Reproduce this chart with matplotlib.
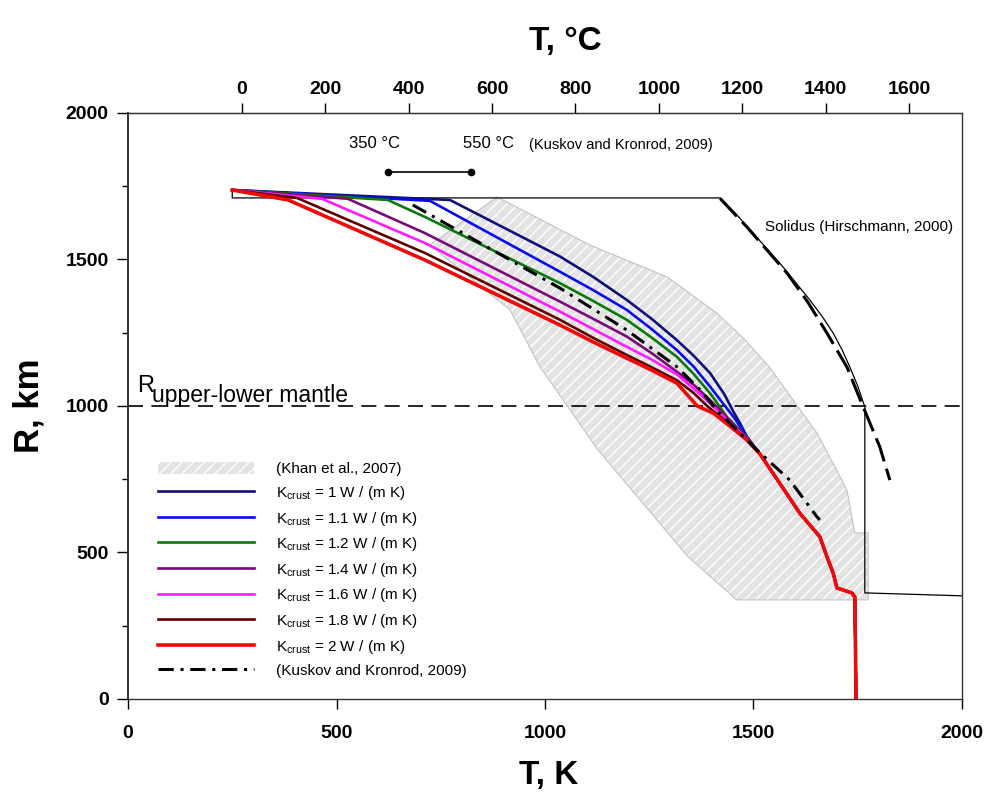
import matplotlib
matplotlib.use('Agg')
import matplotlib.pyplot as plt
from matplotlib.patches import Patch
from matplotlib.ticker import MultipleLocator
from matplotlib import font_manager

# fonts: Arial look-alike, narrow variant for the T axes if it exists
names = {f.name for f in font_manager.fontManager.ttflist}
narrow = 'Liberation Sans Narrow' if 'Liberation Sans Narrow' in names else 'Liberation Sans'
plt.rcParams['font.family'] = ['Liberation Sans', 'DejaVu Sans']
plt.rcParams['mathtext.fontset'] = 'custom'
plt.rcParams['mathtext.rm'] = 'Liberation Sans'
plt.rcParams['mathtext.it'] = 'Liberation Sans:italic'
plt.rcParams['hatch.linewidth'] = 1.0

# ---- data (T in K, R in km) ----
deep_T = [1516, 1563, 1611, 1659, 1676, 1691, 1700, 1736, 1743, 1746]
deep_R = [835, 736, 634, 554, 486, 430, 379, 362, 348, 0]

k10_T = [250, 772, 1036, 1116, 1196, 1256, 1316, 1356, 1396, 1430, 1452, 1470, 1484]
k10_R = [1737, 1703, 1510, 1440, 1362, 1297, 1225, 1172, 1112, 1040, 980, 935, 895]
k11_T = [250, 724, 1036, 1116, 1196, 1256, 1316, 1356, 1396, 1426, 1452, 1470, 1484]
k11_R = [1737, 1700, 1458, 1395, 1328, 1262, 1191, 1135, 1066, 1010, 963, 925, 895]
k12_T = [250, 623, 712, 1036, 1116, 1196, 1256, 1316, 1356, 1396, 1418, 1436, 1462, 1484]
k12_R = [1737, 1703, 1645, 1419, 1358, 1294, 1233, 1168, 1110, 1043, 1000, 963, 925, 892]
k14_T = [250, 527, 712, 1036, 1116, 1196, 1256, 1316, 1356, 1396, 1440, 1484]
k14_R = [1737, 1707, 1590, 1356, 1297, 1237, 1180, 1117, 1073, 1020, 955, 890]
k16_T = [250, 465, 712, 1036, 1116, 1196, 1256, 1316, 1356, 1396, 1440, 1484]
k16_R = [1737, 1707, 1556, 1322, 1262, 1202, 1158, 1108, 1060, 1009, 948, 888]
k18_T = [250, 405, 712, 1036, 1116, 1196, 1256, 1316, 1356, 1388, 1440, 1484]
k18_R = [1737, 1710, 1522, 1294, 1232, 1174, 1132, 1088, 1045, 1001, 940, 886]
k20_T = [250, 384, 712, 1036, 1116, 1196, 1256, 1316, 1365, 1404, 1440, 1484]
k20_R = [1737, 1703, 1498, 1276, 1218, 1163, 1122, 1078, 1000, 975, 935, 884]

kuskov_T = [683, 1036, 1196, 1316, 1372, 1412, 1508, 1587, 1652, 1659]
kuskov_R = [1686, 1402, 1259, 1134, 1055, 986, 850, 747, 622, 611]

khan_T = [885, 1108, 1293, 1412, 1480, 1540, 1595, 1652, 1707, 1724, 1743, 1775,
          1775, 1460, 1343, 1127, 988, 916, 724]
khan_R = [1713, 1549, 1440, 1317, 1225, 1130, 1020, 908, 761, 713, 567, 567,
          338, 338, 485, 850, 1133, 1328, 1549]

solidus_box_T = [250, 250, 1420, 1460, 1492, 1571, 1635, 1665, 1691, 1712, 1731, 1750, 1767,
                 1767, 2000]
solidus_box_R = [1740, 1710, 1710, 1652, 1601, 1474, 1362, 1305, 1249, 1193, 1133, 1068, 997,
                 362, 352]
hirsch_T = [1420, 1484, 1580, 1630, 1676, 1724, 1763, 1803, 1827]
hirsch_R = [1708, 1611, 1454, 1355, 1249, 1133, 997, 860, 747]

crust_range_C = [350, 550]
crust_range_R = 1800

curves = [
    (k10_T, k10_R, '#10107a', '1'),
    (k11_T, k11_R, '#0a0aee', '1.1'),
    (k12_T, k12_R, '#0a7a0a', '1.2'),
    (k14_T, k14_R, '#7a0a7a', '1.4'),
    (k16_T, k16_R, '#ff1aff', '1.6'),
    (k18_T, k18_R, '#5c0000', '1.8'),
    (k20_T, k20_R, '#ee0a0a', '2'),
]

fig = plt.figure(figsize=(9.9, 7.97), dpi=100)
ax = fig.add_axes([0.1293, 0.123, 0.8424, 0.7353])

ax.fill(khan_T, khan_R, facecolor='#e3e3e3', edgecolor='white', hatch='///',
        linewidth=0, zorder=1)
ax.fill(khan_T, khan_R, fill=False, edgecolor='#c4c4c4', linewidth=0.8, zorder=1)
khan_handle = Patch(facecolor='#e3e3e3', edgecolor='white', hatch='///', linewidth=0,
                    label='(Khan et al., 2007)')

ax.axhline(1000, color='black', lw=1.2, dashes=(9, 5), zorder=2)

ax.plot(solidus_box_T, solidus_box_R, color='black', lw=0.9, zorder=2)
ax.plot(hirsch_T, hirsch_R, color='black', lw=2.2, dashes=(8, 2.5), zorder=2)

handles = [khan_handle]
for T, R, c, k in curves:
    lw = 2.6 if k == '2' else 1.9
    line, = ax.plot(T + deep_T, R + deep_R, color=c, lw=lw, zorder=3,
                    label=r'K$_{\rm crust}$ = %s W / (m K)' % k)
    handles.append(line)

kus, = ax.plot(kuskov_T, kuskov_R, color='black', lw=2.2, dashes=(5, 2.2, 1, 2.2),
               zorder=4, label='(Kuskov and Kronrod, 2009)')
handles.append(kus)

# 350-550 C bar
ax.plot([c + 273 for c in crust_range_C], [crust_range_R] * 2, color='black', lw=1.2,
        marker='o', markersize=4.5, zorder=4)
ax.text(590, 1895, '350 °C', fontsize=12, ha='center', va='center')
ax.text(803, 1895, '550 °C', fontsize=12, ha='left', va='center')
ax.text(962, 1892, '(Kuskov and Kronrod, 2009)', fontsize=10.5, ha='left', va='center')

ax.text(1528, 1611, 'Solidus (Hirschmann, 2000)', fontsize=11, ha='left', va='center')
ax.text(22, 1048, 'R', fontsize=17, ha='left', va='baseline')
ax.text(57, 1014, 'upper-lower mantle', fontsize=16.5, ha='left', va='baseline')

ax.legend(handles=handles, loc='upper left', bbox_to_anchor=(0.036, 0.405), frameon=False,
          fontsize=11, handlelength=6.3, handletextpad=1.4, labelspacing=0.5,
          borderaxespad=0, borderpad=0, handleheight=0.9)

ax.set_xlim(0, 2000)
ax.set_ylim(0, 2000)
ax.set_xticks([0, 500, 1000, 1500, 2000])
ax.set_yticks([0, 500, 1000, 1500, 2000])
ax.yaxis.set_minor_locator(MultipleLocator(250))
ax.tick_params(axis='x', direction='out', length=7, width=1, pad=12)
ax.tick_params(axis='y', which='major', direction='out', length=8, width=1, pad=6)
ax.tick_params(axis='y', which='minor', direction='out', length=4, width=1)
for lab in ax.get_xticklabels():
    lab.set_fontfamily(narrow)
    lab.set_fontweight('bold')
    lab.set_fontsize(14)
for lab in ax.get_yticklabels():
    lab.set_fontweight('bold')
    lab.set_fontsize(14)
for s in ax.spines.values():
    s.set_linewidth(1.0)
    s.set_color('#333333')
ax.spines['left'].set_linewidth(1.4)

ax.set_xlabel('T, K', fontsize=24, fontweight='bold', fontfamily=narrow)
ax.xaxis.set_label_coords(0.504, -0.104)
ax.set_ylabel('R, km', fontsize=25, fontweight='bold', labelpad=14)

sec = ax.secondary_xaxis('top', functions=(lambda t: t - 273, lambda c: c + 273))
sec.set_xticks(range(0, 1601, 200))
sec.tick_params(direction='out', length=7, width=1, pad=4)
for lab in sec.get_xticklabels():
    lab.set_fontfamily(narrow)
    lab.set_fontweight('bold')
    lab.set_fontsize(14)
sec.set_xlabel('T, °C', fontsize=24, fontweight='bold', fontfamily=narrow, labelpad=22)
sec.xaxis.label.set_x(0.524)

fig.savefig('out.png', dpi=100)
